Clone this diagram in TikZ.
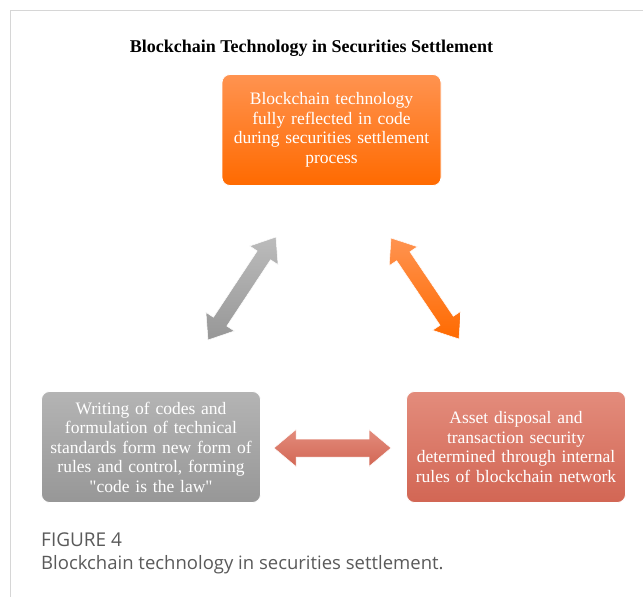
\documentclass[tikz,border=0pt]{standalone}
\usepackage{fontspec}
\setmainfont{Liberation Serif}
\newfontfamily\rawserif{Liberation Serif}
\newfontfamily\capfont{Open Sans}
\usetikzlibrary{calc}
\definecolor{frameline}{HTML}{D6D6D6}
\definecolor{orTop}{HTML}{FF9350}
\definecolor{orBot}{HTML}{FF6A00}
\definecolor{grTop}{HTML}{B4B4B4}
\definecolor{grBot}{HTML}{979797}
\definecolor{saTop}{HTML}{E38C7C}
\definecolor{saBot}{HTML}{D26654}
\definecolor{capgray}{HTML}{5A5A5A}
\tikzset{
  box/.style={rounded corners=8pt, minimum width=219pt, minimum height=111pt,
    text width=217pt, align=center, text=white, inner sep=0pt,
    font=\fontsize{17.5}{19.5}\selectfont, draw=white, line width=0.8pt},
  orangebox/.style={box, top color=orTop, bottom color=orBot},
  graybox/.style={box, top color=grTop, bottom color=grBot},
  salmonbox/.style={box, top color=saTop, bottom color=saBot},
  orangearrow/.style={top color=orTop, bottom color=orBot, draw=white, line width=0.5pt},
  grayarrow/.style={top color=grTop!90, bottom color=grBot, draw=white, line width=0.5pt},
  salmonarrow/.style={top color=saTop, bottom color=saBot, draw=white, line width=0.5pt},
}
% double block arrow between two named coordinates
\newcommand\blockarrow[5]{% #1 start, #2 end, #3 style, #4 head half width, #5 shaft half width
  \path[#3] let \p1=(#1), \p2=(#2), \n1={atan2(\y2-\y1,\x2-\x1)}, \n2={veclen(\x2-\x1,\y2-\y1)} in
    {[shift={(\p1)}, rotate=\n1]
    (0,0) -- (22,#4) -- (22,#5) -- (\n2-22,#5) -- (\n2-22,#4) -- (\n2,0)
    -- (\n2-22,-#4) -- (\n2-22,-#5) -- (22,-#5) -- (22,-#4) -- cycle};
}
\begin{document}
\begin{tikzpicture}[x=1pt,y=1pt]
\useasboundingbox (0,0) rectangle (643,-597);
\fill[white] (0,0) rectangle (643,-597);
% frame lines
\draw[frameline, line width=1pt] (10,-597) -- (10,-10) -- (643,-10);
% title
\node[font=\fontsize{18}{20}\selectfont\bfseries] (title) at (311.5,-48) {Blockchain Technology in Securities Settlement};
% boxes
\node[orangebox] (top) at (331.5,-130) {Blockchain technology\\fully reflected in code\\during securities settlement\\process};
\node[graybox] (left) at (151,-447) {Writing of codes and\\formulation of technical\\standards form new form of\\rules and control, forming\\{\rawserif"}code is the law{\rawserif"}};
\node[salmonbox] (right) at (516,-447) {Asset disposal and\\transaction security\\determined through internal\\rules of blockchain network};
% arrow end points
\coordinate (ga) at (208,-340);
\coordinate (gb) at (276,-237);
\coordinate (oa) at (391,-238);
\coordinate (ob) at (459,-339);
\coordinate (ha) at (274,-448);
\coordinate (hb) at (391,-448);
\blockarrow{ga}{gb}{grayarrow}{17}{8}
\blockarrow{oa}{ob}{orangearrow}{17}{8}
\blockarrow{ha}{hb}{salmonarrow}{18.5}{9}
% caption
\node[anchor=west, text=capgray, font=\capfont\fontsize{19}{22}\selectfont, inner sep=0pt] (fig) at (41,-540) {FIGURE 4};
\node[anchor=west, text=capgray, font=\capfont\fontsize{18.5}{21}\selectfont, inner sep=0pt] (cap) at (41,-565) {Blockchain technology in securities settlement.};
\end{tikzpicture}
\end{document}
